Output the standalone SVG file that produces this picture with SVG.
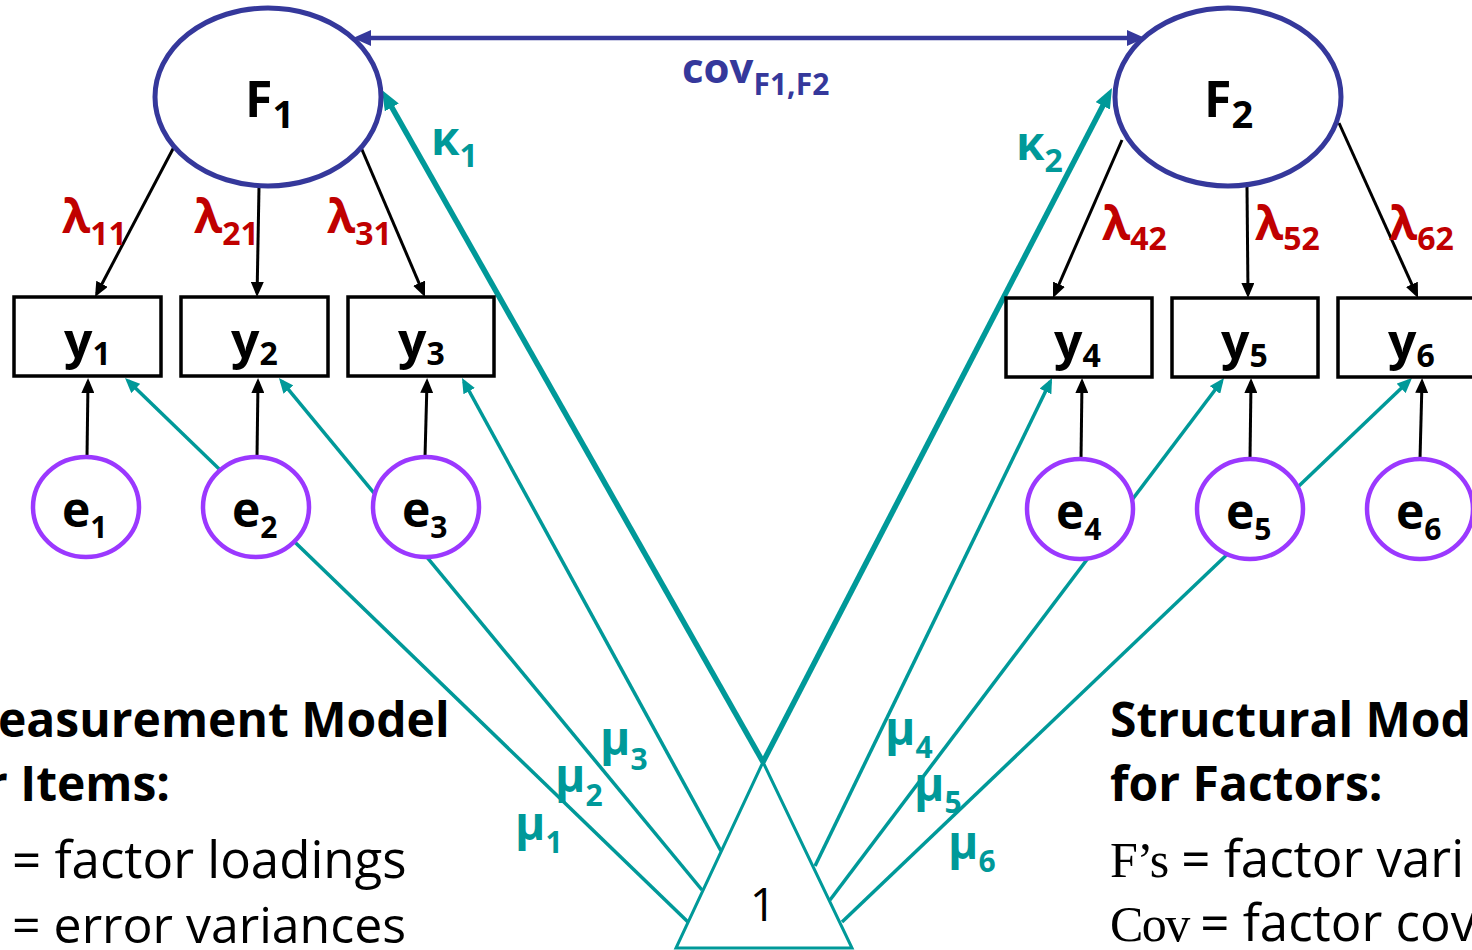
<svg xmlns="http://www.w3.org/2000/svg" width="1472" height="950" viewBox="0 0 1472 950">
<defs>
<style>
.t{font-family:'Open Sans','Noto Sans','DejaVu Sans',sans-serif}
.s{font-family:'Liberation Serif','DejaVu Serif',serif}
.b{font-weight:700}
.lat{fill:#fff;stroke:#35389B;stroke-width:5}
.box{fill:#fff;stroke:#000;stroke-width:3.5}
.err{fill:#fff;stroke:#9B38FF;stroke-width:4.5}
.tri{fill:#fff;stroke:#009999;stroke-width:3}
.ld{fill:none;stroke:#000;stroke-width:3;marker-end:url(#mb)}
.mu{fill:none;stroke:#009999;stroke-width:3.5;marker-end:url(#mt)}
.kp{fill:none;stroke:#009999;stroke-width:5.5;marker-end:url(#mk)}
.cv{fill:none;stroke:#35389B;stroke-width:4.5;marker-start:url(#mc);marker-end:url(#mc)}
.red{fill:#C00000}
.teal{fill:#009999}
.navy{fill:#35389B}
.blk{fill:#000}
</style>
<marker id="mb" markerUnits="userSpaceOnUse" markerWidth="15" markerHeight="13" refX="11" refY="6.5" orient="auto"><path d="M0,0L15,6.5L0,13z" fill="#000"/></marker>
<marker id="mt" markerUnits="userSpaceOnUse" markerWidth="15" markerHeight="13" refX="11" refY="6.5" orient="auto"><path d="M0,0L15,6.5L0,13z" fill="#009999"/></marker>
<marker id="mk" markerUnits="userSpaceOnUse" markerWidth="20" markerHeight="16" refX="10" refY="8" orient="auto"><path d="M0,0L20,8L0,16z" fill="#009999"/></marker>
<marker id="mc" markerUnits="userSpaceOnUse" markerWidth="18" markerHeight="16" refX="9" refY="8" orient="auto-start-reverse"><path d="M0,0L18,8L0,16z" fill="#35389B"/></marker>
</defs>
<rect width="1472" height="950" fill="#fff"/>

<g id="connectors">
  <line class="cv" x1="362" y1="38" x2="1136" y2="38"/>
  <line class="kp" x1="763" y1="762" x2="386.9" y2="98.7"/>
  <line class="kp" x1="763" y1="762" x2="1107.4" y2="96.9"/>
  <line class="ld" x1="175" y1="145" x2="96.9" y2="293.5"/>
  <line class="ld" x1="259" y1="187" x2="257.1" y2="293"/>
  <line class="ld" x1="360" y1="145" x2="423.4" y2="293.3"/>
  <line class="ld" x1="1122" y1="140" x2="1054.6" y2="294.3"/>
  <line class="ld" x1="1247" y1="187" x2="1248" y2="294"/>
  <line class="ld" x1="1339" y1="123" x2="1416.4" y2="294.4"/>
  <line class="ld" x1="87" y1="457" x2="88" y2="382"/>
  <line class="ld" x1="257" y1="457" x2="258" y2="382"/>
  <line class="ld" x1="425" y1="457" x2="427" y2="382"/>
  <line class="ld" x1="1081" y1="459" x2="1082" y2="382"/>
  <line class="ld" x1="1250" y1="459" x2="1251" y2="382"/>
  <line class="ld" x1="1420" y1="459" x2="1422" y2="382"/>
  <line class="mu" x1="688" y1="922" x2="127.9" y2="380.8"/>
  <line class="mu" x1="702" y1="890" x2="281.5" y2="381.1"/>
  <line class="mu" x1="721" y1="851" x2="463.9" y2="381.5"/>
  <line class="mu" x1="815" y1="866" x2="1050.3" y2="381.6"/>
  <line class="mu" x1="830" y1="900" x2="1221.6" y2="381.2"/>
  <line class="mu" x1="842" y1="922" x2="1409.1" y2="380.8"/>
</g>

<g id="edge-labels" class="t b">
  <text class="navy" font-size="42" x="682" y="83">cov<tspan dy="12" font-size="30">F1,F2</tspan></text>
  <text class="teal" font-size="46" x="431" y="155">κ<tspan dy="12" font-size="32">1</tspan></text>
  <text class="teal" font-size="46" x="1016" y="160">κ<tspan dy="12" font-size="32">2</tspan></text>
  <text class="red" font-size="46" x="62" y="233">λ<tspan dy="12" font-size="32">11</tspan></text>
  <text class="red" font-size="46" x="194" y="233">λ<tspan dy="12" font-size="32">21</tspan></text>
  <text class="red" font-size="46" x="327" y="233">λ<tspan dy="12" font-size="32">31</tspan></text>
  <text class="red" font-size="46" x="1102" y="240">λ<tspan dy="10" font-size="32">42</tspan></text>
  <text class="red" font-size="46" x="1255" y="240">λ<tspan dy="10" font-size="32">52</tspan></text>
  <text class="red" font-size="46" x="1389" y="240">λ<tspan dy="10" font-size="32">62</tspan></text>
  <text class="teal" font-size="46" x="515" y="840">μ<tspan dy="13" font-size="30">1</tspan></text>
  <text class="teal" font-size="46" x="555" y="792">μ<tspan dy="14" font-size="30">2</tspan></text>
  <text class="teal" font-size="46" x="600" y="755">μ<tspan dy="15" font-size="30">3</tspan></text>
  <text class="teal" font-size="46" x="885" y="745">μ<tspan dy="13" font-size="30">4</tspan></text>
  <text class="teal" font-size="46" x="914" y="801">μ<tspan dy="12" font-size="30">5</tspan></text>
  <text class="teal" font-size="46" x="948" y="859">μ<tspan dy="13" font-size="30">6</tspan></text>
</g>

<g id="F1"><ellipse class="lat" cx="268" cy="97" rx="113" ry="89"/><text class="t b blk" font-size="50" x="245" y="117">F<tspan dy="11" font-size="38">1</tspan></text></g>
<g id="F2"><ellipse class="lat" cx="1228" cy="97" rx="113" ry="89"/><text class="t b blk" font-size="50" x="1204" y="117">F<tspan dy="11" font-size="38">2</tspan></text></g>

<g id="y1"><rect class="box" x="14" y="297" width="147" height="79"/><text class="t b blk" font-size="50" x="64" y="358">y<tspan dy="7" font-size="32">1</tspan></text></g>
<g id="y2"><rect class="box" x="181" y="297" width="147" height="79"/><text class="t b blk" font-size="50" x="231" y="358">y<tspan dy="7" font-size="32">2</tspan></text></g>
<g id="y3"><rect class="box" x="348" y="297" width="146" height="79"/><text class="t b blk" font-size="50" x="398" y="358">y<tspan dy="7" font-size="32">3</tspan></text></g>
<g id="y4"><rect class="box" x="1006" y="298" width="146" height="79"/><text class="t b blk" font-size="50" x="1054" y="359">y<tspan dy="8" font-size="32">4</tspan></text></g>
<g id="y5"><rect class="box" x="1172" y="298" width="146" height="79"/><text class="t b blk" font-size="50" x="1221" y="359">y<tspan dy="8" font-size="32">5</tspan></text></g>
<g id="y6"><rect class="box" x="1338" y="298" width="146" height="79"/><text class="t b blk" font-size="50" x="1388" y="359">y<tspan dy="8" font-size="32">6</tspan></text></g>

<g id="e1"><ellipse class="err" cx="86" cy="507" rx="53" ry="50"/><text class="t b blk" font-size="48" x="62" y="527">e<tspan dy="11" font-size="30">1</tspan></text></g>
<g id="e2"><ellipse class="err" cx="256" cy="507" rx="53" ry="50"/><text class="t b blk" font-size="48" x="232" y="527">e<tspan dy="11" font-size="30">2</tspan></text></g>
<g id="e3"><ellipse class="err" cx="426" cy="507" rx="53" ry="50"/><text class="t b blk" font-size="48" x="402" y="527">e<tspan dy="11" font-size="30">3</tspan></text></g>
<g id="e4"><ellipse class="err" cx="1080" cy="509" rx="53" ry="50"/><text class="t b blk" font-size="48" x="1056" y="529">e<tspan dy="11" font-size="30">4</tspan></text></g>
<g id="e5"><ellipse class="err" cx="1250" cy="509" rx="53" ry="50"/><text class="t b blk" font-size="48" x="1226" y="529">e<tspan dy="11" font-size="30">5</tspan></text></g>
<g id="e6"><ellipse class="err" cx="1420" cy="509" rx="53" ry="50"/><text class="t b blk" font-size="48" x="1396" y="529">e<tspan dy="11" font-size="30">6</tspan></text></g>

<g id="one"><path class="tri" d="M763,762L852,948L676,948z"/><text class="t blk" font-size="46" text-anchor="middle" x="763" y="921">1</text></g>

<g id="notes-left" class="t blk">
  <text class="b" font-size="48" x="-2" y="737">easurement Model</text>
  <text class="b" font-size="48" x="-14" y="801">r Items:</text>
  <text font-size="51" x="12" y="878">= factor loadings</text>
  <text font-size="50" x="12" y="943">= error variances</text>
</g>
<g id="notes-right" class="t blk">
  <text class="b" font-size="48" x="1110" y="737">Structural Mod</text>
  <text class="b" font-size="48" x="1110" y="801">for Factors:</text>
  <text font-size="51" y="877"><tspan class="s" x="1110" font-size="50" letter-spacing="-1">F’s</tspan><tspan x="1168"> = factor vari</tspan></text>
  <text font-size="51" y="941"><tspan class="s" x="1110" font-size="50" letter-spacing="-1.5">Cov</tspan><tspan x="1187"> = factor cov</tspan></text>
</g>
</svg>
